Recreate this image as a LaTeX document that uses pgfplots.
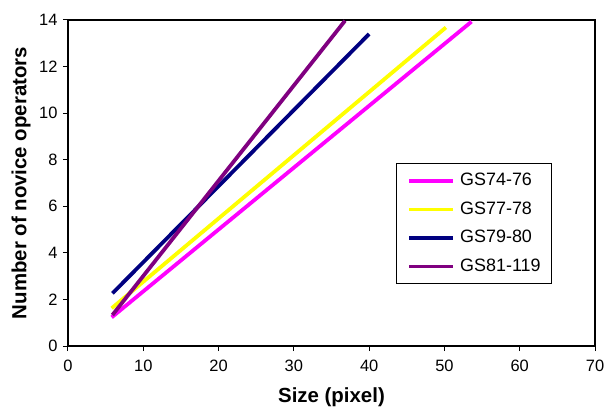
\documentclass[border=0pt]{standalone}
\usepackage{pgfplots}
\pgfplotsset{compat=1.18}
\usepackage{fontspec}
\setmainfont{Liberation Sans}
\definecolor{cmag}{HTML}{FF00FF}
\definecolor{cyel}{HTML}{FFFF00}
\definecolor{cnavy}{HTML}{000080}
\definecolor{cpur}{HTML}{800080}
\begin{document}
\begin{tikzpicture}
\useasboundingbox (-68bp,-65bp) rectangle (539bp,346bp);
\begin{axis}[
  at={(0,0)}, anchor=south west,
  scale only axis,
  width=527bp, height=326bp,
  xmin=0, xmax=70, ymin=0, ymax=14,
  xtick={0,10,...,70}, ytick={0,2,...,14},
  tick align=outside, tick pos=left,
  major tick length=5bp,
  axis line style={line width=1.8bp},
  every tick/.style={black, line width=1bp},
  /pgf/number format/assume math mode=true,
  tick label style={font=\fontsize{16.5}{18}\selectfont},
  xticklabel style={yshift=-5bp},
  yticklabel style={xshift=-2bp},
  xlabel={\textbf{Size (pixel)}},
  ylabel={\textbf{Number of novice operators}},
  label style={font=\fontsize{20.5}{22}\selectfont},
  xlabel style={at={(axis description cs:0.5,0)}, anchor=center, yshift=-51bp},
  ylabel style={at={(axis description cs:0,0.5)}, anchor=center, yshift=47bp},
  legend style={at={(396bp-68bp,346bp-163bp)}, anchor=north west, draw=black, line width=1.4bp,
    font=\fontsize{18}{20}\selectfont, inner xsep=11bp, inner ysep=9bp,
    nodes={inner sep=0pt, text height=13bp, text depth=3.5bp},
    row sep=12bp, column sep=5bp, cells={anchor=west}},
  legend image code/.code={\draw[#1, line width=3.5bp] (0bp,0bp) -- (44bp,0bp);},
]
\addplot[cmag, line width=3.8bp] coordinates {(5.8,1.23) (53.6,13.93)};
\addlegendentry{GS74-76}
\addplot[cyel, line width=3.8bp] coordinates {(5.8,1.62) (50.2,13.68)};
\addlegendentry{GS77-78}
\addplot[cnavy, line width=3.8bp] coordinates {(5.9,2.26) (40.0,13.4)};
\addlegendentry{GS79-80}
\addplot[cpur, line width=3.8bp] coordinates {(5.9,1.33) (36.8,13.97)};
\addlegendentry{GS81-119}
\end{axis}
\end{tikzpicture}
\end{document}
